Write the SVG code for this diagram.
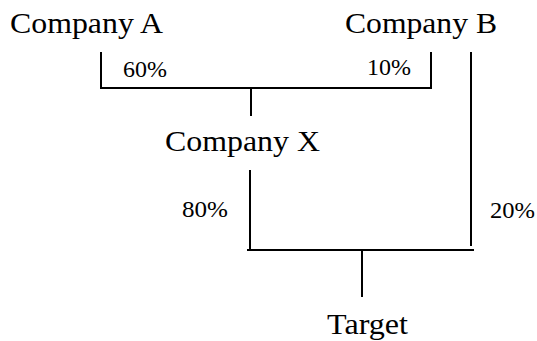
<svg xmlns="http://www.w3.org/2000/svg" width="537" height="341" viewBox="0 0 537 341">
<style>
.n{font-family:'Liberation Serif','Times New Roman',serif;font-size:29px;fill:#000}
.p{font-family:'Liberation Serif','Times New Roman',serif;font-size:23px;fill:#000}
.c{stroke:#000;stroke-width:2;fill:none}
</style>
<rect width="537" height="341" fill="#fff"/>
<g id="company-a"><text class="n" x="10" y="33" textLength="153" lengthAdjust="spacingAndGlyphs">Company A</text></g>
<g id="company-b"><text class="n" x="345" y="33" textLength="152" lengthAdjust="spacingAndGlyphs">Company B</text></g>
<g id="company-x"><text class="n" x="165" y="151" textLength="155" lengthAdjust="spacingAndGlyphs">Company X</text></g>
<g id="target"><text class="n" x="327" y="334" textLength="81" lengthAdjust="spacingAndGlyphs">Target</text></g>
<g id="connectors">
<path class="c" d="M101,52V88H431V52M251,88V116M471,52V246M250,170V250M247,250H474M362,250V297"/>
<text class="p" x="123" y="77" textLength="44" lengthAdjust="spacingAndGlyphs">60%</text>
<text class="p" x="367" y="75" textLength="44" lengthAdjust="spacingAndGlyphs">10%</text>
<text class="p" x="182" y="217" textLength="46" lengthAdjust="spacingAndGlyphs">80%</text>
<text class="p" x="490" y="218" textLength="45" lengthAdjust="spacingAndGlyphs">20%</text>
</g>
</svg>
